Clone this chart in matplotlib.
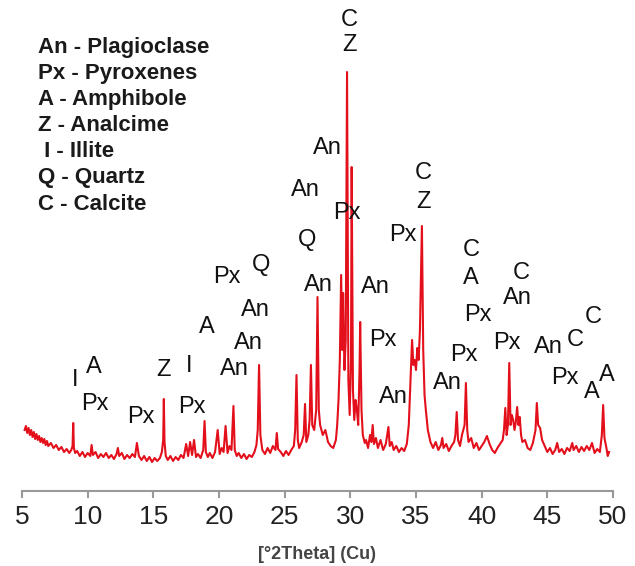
import numpy as np
import matplotlib.pyplot as plt

plt.rcParams['font.family'] = ['Liberation Sans', 'DejaVu Sans']

# XRD pattern (2theta in degrees, counts in arbitrary units)
two_theta = [5.2, 5.3, 5.4, 5.5, 5.6, 5.7, 5.8, 5.9, 6.0, 6.1, 6.2, 6.3, 6.4, 6.5, 6.6, 6.7, 6.8, 6.9, 7.0, 7.2,
             7.4, 7.6, 7.8, 8.0, 8.2, 8.4, 8.6, 8.75, 8.85, 8.9, 8.95, 9.05, 9.2, 9.4,
             9.6, 9.8, 10.0, 10.2, 10.3, 10.4, 10.6, 10.8, 11.0, 11.2, 11.4, 11.6, 11.8, 12.0, 12.2, 12.3, 12.4, 12.6, 12.8, 13.0,
             13.2, 13.4, 13.6, 13.75, 13.9, 14.1, 14.3, 14.5, 14.7, 14.9, 15.1, 15.3, 15.5, 15.65, 15.75, 15.8, 15.85, 15.95, 16.1,
             16.3, 16.5, 16.7, 16.9, 17.1, 17.3, 17.5, 17.65, 17.8, 17.95, 18.1, 18.25, 18.4, 18.6, 18.8, 18.9, 19.0, 19.15, 19.3, 19.5,
             19.7, 19.9, 20.05, 20.2, 20.35, 20.5, 20.65, 20.8, 20.95, 21.1, 21.2, 21.35, 21.5, 21.7, 21.9, 22.1, 22.3, 22.5,
             22.7, 22.85, 22.95, 23.05, 23.15, 23.3, 23.5, 23.7, 23.9, 24.1, 24.3, 24.4, 24.5, 24.7, 24.9, 25.1, 25.3, 25.5, 25.7, 25.8,
             25.9, 26.0, 26.1, 26.3, 26.45, 26.55, 26.65, 26.8, 26.9, 27.0, 27.1, 27.25, 27.4, 27.5, 27.6, 27.7, 27.9, 28.1, 28.3, 28.5, 28.7,
             28.9, 29.0, 29.1, 29.2, 29.3, 29.38, 29.45, 29.55, 29.65, 29.75, 29.85, 29.95, 30.05, 30.1, 30.2, 30.3, 30.4, 30.5, 30.6, 30.7,
             30.75, 30.85, 30.95, 31.1, 31.2,
             31.35, 31.5, 31.6, 31.7, 31.8, 31.95, 32.1, 32.3, 32.5, 32.7, 32.9, 33.0, 33.15, 33.3, 33.5, 33.7, 33.9, 34.1, 34.3, 34.45,
             34.6, 34.7, 34.8, 34.9, 35.0, 35.1, 35.2, 35.3, 35.45, 35.55, 35.65, 35.75, 35.9, 36.1,
             36.3, 36.5, 36.7, 36.9, 37.0, 37.1, 37.3, 37.5, 37.7, 37.9, 38.0, 38.1, 38.2, 38.35, 38.5, 38.7, 38.8, 38.9, 39.0, 39.2,
             39.4, 39.6, 39.8, 40.0, 40.2, 40.4, 40.6, 40.8, 41.0, 41.2, 41.4,
             41.6, 41.7, 41.8, 41.9, 42.0, 42.1, 42.2, 42.3, 42.4, 42.5, 42.6, 42.7, 42.8, 42.9, 43.0, 43.1, 43.3, 43.5, 43.7, 43.9,
             44.1, 44.2, 44.3, 44.45, 44.6, 44.8,
             45.0, 45.2, 45.4, 45.6, 45.75, 45.9, 46.1, 46.3, 46.5, 46.7, 46.9, 47.0, 47.2, 47.4, 47.6, 47.8, 48.0, 48.2, 48.4, 48.6,
             48.8, 49.0, 49.15, 49.25, 49.35, 49.5, 49.6, 49.7]
counts = [40, 44, 37, 42, 35, 40, 33, 38, 31, 36, 30, 34, 28, 32, 27, 31, 25, 29, 24, 27,
          22, 25, 20, 23, 18, 21, 17, 20, 24, 47, 22, 17, 19, 14,
          18, 13, 17, 14, 25, 15, 18, 12, 16, 13, 17, 12, 15, 11, 16, 22, 14, 17, 11, 15,
          12, 16, 13, 27, 14, 10, 14, 9, 13, 8, 12, 9, 12, 18, 30, 71, 28, 14, 10,
          14, 9, 13, 10, 15, 12, 26, 14, 28, 15, 30, 13, 16, 12, 20, 49, 18, 13, 17, 12,
          18, 40, 16, 22, 18, 44, 17, 24, 20, 64, 20, 14, 17, 12, 16, 11, 15, 13,
          18, 25, 40, 105, 35, 20, 16, 22, 17, 24, 20, 37, 21, 18, 14, 19, 15, 20, 24, 40,
          95, 30, 22, 28, 35, 66, 28, 35, 50, 105, 45, 40, 60, 173, 60, 45, 35, 40, 28, 24, 22,
          30, 45, 70, 110, 195, 120, 177, 100, 130, 398, 90, 55, 110, 303, 80, 50, 70, 60, 45, 100,
          148, 60, 35, 27, 30,
          22, 35, 28, 45, 26, 32, 22, 30, 20, 26, 43, 24, 28, 20, 24, 18, 22, 19, 26, 45,
          95, 130, 105, 110, 100, 122, 110, 140, 244, 120, 75, 60, 40, 28,
          22, 28, 20, 25, 32, 22, 26, 19, 24, 28, 35, 58, 30, 24, 35, 45, 87, 40, 28, 32,
          22, 27, 20, 24, 28, 34, 26, 20, 17, 22, 26,
          30, 40, 62, 35, 45, 107, 45, 55, 50, 40, 48, 63, 45, 53, 35, 28, 30, 22, 20, 27,
          40, 67, 45, 42, 30, 24,
          18, 22, 16, 20, 27, 18, 21, 16, 22, 19, 27, 20, 24, 18, 23, 19, 24, 20, 27, 17,
          21, 18, 35, 65, 32, 22, 14, 18]

xticks = [5, 10, 15, 20, 25, 30, 35, 40, 45, 50]

# mineral key (top left)
key_lines = ['An - Plagioclase', 'Px - Pyroxenes', 'A - Amphibole', 'Z - Analcime',
             ' I - Illite', 'Q - Quartz', 'C - Calcite']

# phase labels over the peaks: text, 2theta, height
peak_text = ['I', 'A', 'Px', 'Px', 'Z', 'I', 'Px', 'A', 'An', 'An', 'An', 'Px', 'Q',
             'An', 'Q', 'An', 'An', 'Px', 'C', 'Z', 'An', 'Px', 'An', 'Px', 'C', 'Z',
             'An', 'C', 'A', 'Px', 'Px', 'C', 'An', 'Px', 'An', 'C', 'C', 'Px', 'A', 'A']
peak_x = [9.04, 10.48, 10.56, 14.06, 15.81, 17.72, 17.95, 19.09, 21.15, 22.21, 22.75, 20.61, 23.20,
          27.54, 26.71, 26.55, 28.23, 29.75, 29.90, 29.90, 31.88, 32.49, 33.26, 34.02, 35.54, 35.54,
          37.37, 39.20, 39.20, 39.73, 38.66, 43.00, 42.70, 41.94, 45.06, 47.12, 48.49, 46.36, 48.41, 49.55]
peak_y = [90, 103, 66, 53, 100, 104, 63, 143, 101, 127, 160, 193, 205,
          185, 230, 280, 322, 257, 450, 425, 183, 130, 73, 235, 297, 268,
          87, 220, 192, 155, 115, 197, 172, 127, 123, 130, 153, 92, 78, 95]

fig = plt.figure(figsize=(6.35, 5.66), dpi=100)
ax = fig.add_axes([22/635, 75/566, 591/635, 481/566])

ax.plot(two_theta, counts, color='#e3101c', lw=1.5)

#key text
for i, t in enumerate(key_lines):
    ax.text(6.22, 423 - 26.2*i, t, fontsize=16, fontweight='bold', color='#1a1a1a',
            ha='left', va='center')

#phase labels
for t, x, y in zip(peak_text, peak_x, peak_y):
    ax.text(x, y, t, fontsize=17, color='#111111', ha='center', va='center')

ax.set_xlim(5, 50)
ax.set_ylim(-21, 460)
ax.set_xticks(xticks)
ax.tick_params(axis='x', labelsize=19, colors='#999999', labelcolor='#222222',
               length=5, width=1.5, pad=5)
ax.set_yticks([])
for s in ['left', 'right', 'top']:
    ax.spines[s].set_visible(False)
ax.spines['bottom'].set_color('#999999')
ax.spines['bottom'].set_linewidth(1.5)
ax.set_xlabel('[°2Theta] (Cu)', fontsize=13, fontweight='bold', color='#444444', labelpad=12)

plt.savefig('out.png')
